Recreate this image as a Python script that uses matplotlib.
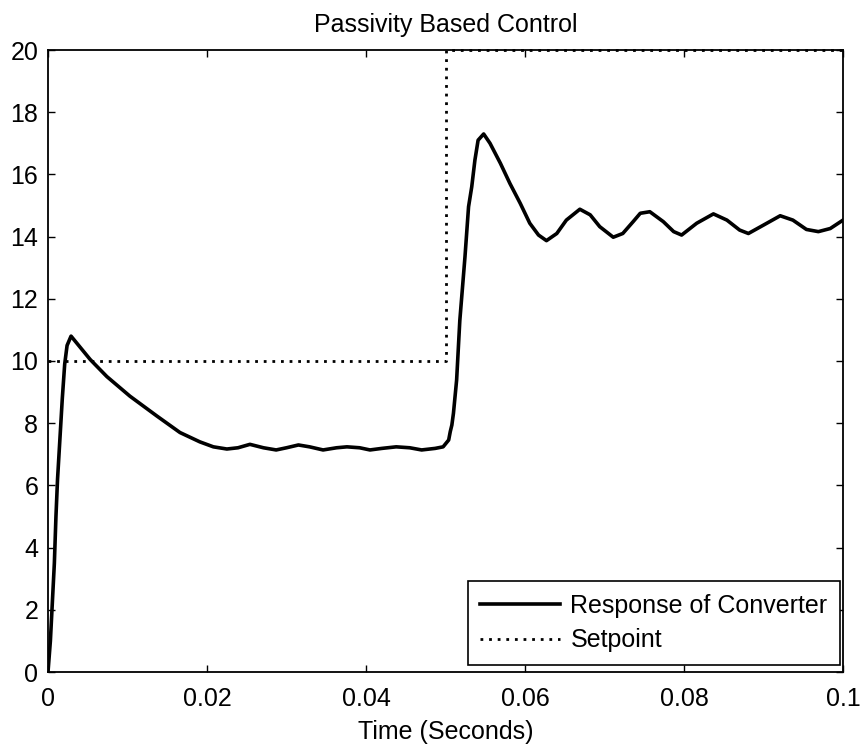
import matplotlib
matplotlib.use("Agg")
import matplotlib.pyplot as plt

# Response of converter (time in seconds, output value)
resp_t = [0.0, 0.0003, 0.0005, 0.0008, 0.0010, 0.0012, 0.0015, 0.0018, 0.0021, 0.0024, 0.0029,
          0.0053, 0.0074, 0.0103, 0.0137, 0.0166, 0.0191, 0.0208, 0.0225, 0.0239, 0.0254,
          0.0271, 0.0287, 0.0300, 0.0315, 0.0329, 0.0346, 0.0363, 0.0376, 0.0392, 0.0405,
          0.0420, 0.0438, 0.0455, 0.0470, 0.0487, 0.0497, 0.0504, 0.0506, 0.0508, 0.0510,
          0.0514, 0.0518, 0.05245, 0.0529, 0.0533, 0.0537, 0.0541, 0.0548, 0.0556, 0.0569,
          0.0581, 0.0594, 0.0606, 0.0617, 0.0627, 0.0640, 0.0652, 0.0669, 0.0682, 0.0694,
          0.0711, 0.0723, 0.0736, 0.0745, 0.0757, 0.0774, 0.0787, 0.0797, 0.0816, 0.0837,
          0.0854, 0.0870, 0.0881, 0.0900, 0.0921, 0.0937, 0.0954, 0.0969, 0.0984, 0.1000]
resp_v = [0.0, 1.0, 2.0, 3.5, 5.0, 6.2, 7.5, 8.8, 9.9, 10.5, 10.8,
          10.05, 9.5, 8.87, 8.23, 7.7, 7.4, 7.24, 7.17, 7.21, 7.32,
          7.21, 7.14, 7.21, 7.3, 7.24, 7.14, 7.21, 7.24, 7.21, 7.14,
          7.19, 7.24, 7.21, 7.14, 7.19, 7.24, 7.46, 7.73, 7.94, 8.32,
          9.39, 11.3, 13.35, 14.96, 15.6, 16.46, 17.1, 17.3, 17.0, 16.36,
          15.71, 15.07, 14.43, 14.05, 13.87, 14.1, 14.53, 14.88, 14.7, 14.32,
          13.98, 14.1, 14.48, 14.75, 14.8, 14.48, 14.16, 14.05, 14.43, 14.73,
          14.53, 14.21, 14.1, 14.37, 14.67, 14.53, 14.23, 14.16, 14.26, 14.53]

# Setpoint (step)
sp_t = [0.0, 0.05, 0.05, 0.1]
sp_v = [10, 10, 20, 20]

x_ticks = [0, 0.02, 0.04, 0.06, 0.08, 0.1]
x_ticklabels = ["0", "0.02", "0.04", "0.06", "0.08", "0.1"]
y_ticks = [0, 2, 4, 6, 8, 10, 12, 14, 16, 18, 20]

plt.rcParams['font.family'] = ['Liberation Sans', 'DejaVu Sans']
plt.rcParams['font.size'] = 18

fig = plt.figure(figsize=(8.61, 7.45), dpi=100)
ax = fig.add_axes([48/861, (745-672)/745, 795/861, 622/745])

ax.plot(resp_t, resp_v, color='black', lw=2.6, label='Response of Converter',
        solid_joinstyle='round')
ax.plot(sp_t, sp_v, color='black', lw=2.0, linestyle=(0, (1.0, 2.1)),
        label='Setpoint', clip_on=False)

ax.set_xlim(0, 0.1)
ax.set_ylim(0, 20)
ax.set_xticks(x_ticks)
ax.set_xticklabels(x_ticklabels)
ax.set_yticks(y_ticks)
ax.tick_params(direction='in', length=5, width=1, top=True, right=True,
               labelsize=18)
ax.tick_params(axis='x', pad=11)
ax.tick_params(axis='y', pad=7)
for s in ax.spines.values():
    s.set_linewidth(1.3)

ax.set_title('Passivity Based Control', fontsize=18, pad=13)
ax.set_xlabel('Time (Seconds)', fontsize=18, labelpad=6)

leg = ax.legend(loc='lower right', bbox_to_anchor=(792/795, 7/622),
                borderaxespad=0, fancybox=False, framealpha=1,
                edgecolor='black', handlelength=3.2, handletextpad=0.4,
                borderpad=0.5, labelspacing=0.44, fontsize=18)
leg.get_frame().set_linewidth(1.2)

fig.savefig('out.png', dpi=100)
